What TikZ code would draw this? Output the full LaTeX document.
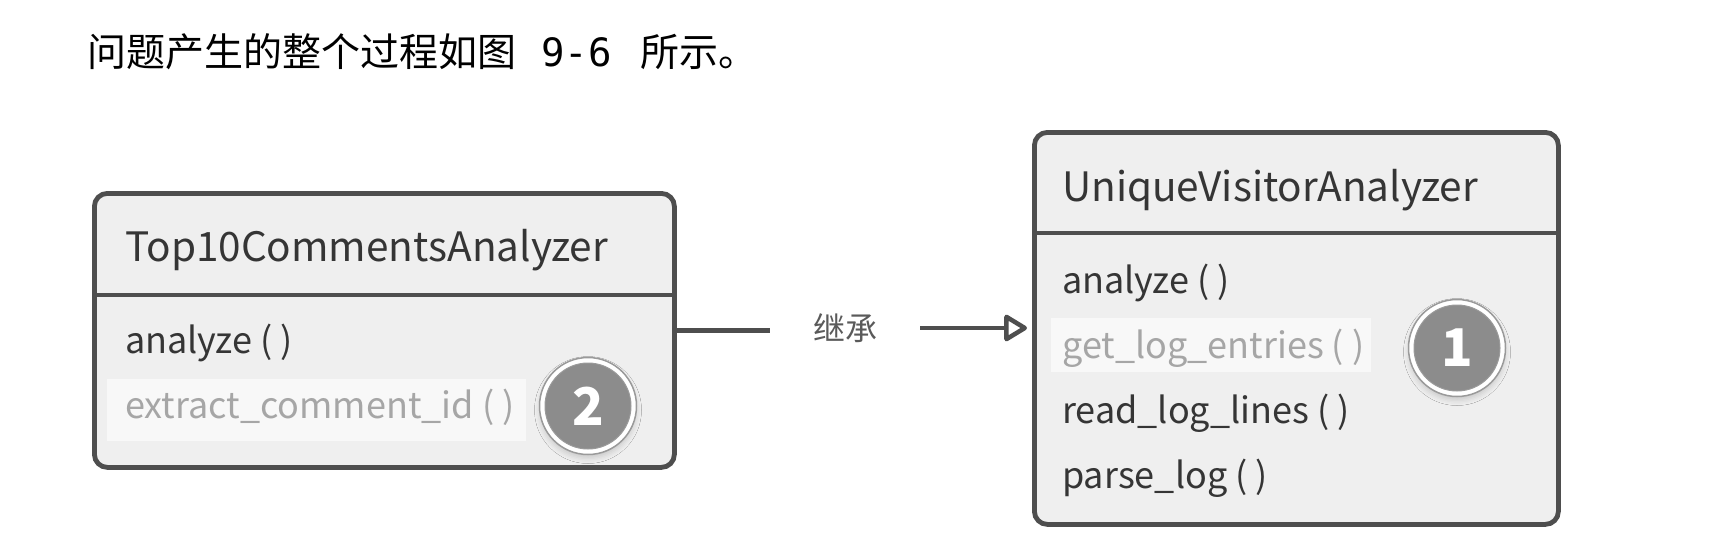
\documentclass[tikz,border=0pt]{standalone}
\usepackage{fontspec}
\setmainfont{Noto Sans CJK SC}
\newfontfamily\titlemono{DejaVu Sans Mono}
\usetikzlibrary{arrows.meta,shadows.blur}
\definecolor{boxfill}{HTML}{EFEFEF}
\definecolor{boxline}{HTML}{4E4E4E}
\definecolor{txt}{HTML}{353535}
\definecolor{dim}{HTML}{A6A6A6}
\definecolor{hl}{HTML}{F8F8F8}
\definecolor{badge}{HTML}{8C8C8C}
\definecolor{badgering}{HTML}{9A9A9A}
\definecolor{lbltxt}{HTML}{5A5A5A}
\begin{document}
\begin{tikzpicture}[x=1pt,y=-1pt,
  box/.style={draw=boxline, line width=4.8pt, fill=boxfill, rounded corners=13pt, inner sep=0pt, anchor=north west},
  sepline/.style={draw=boxline, line width=4.2pt},
  head/.style={anchor=base west, text=txt, font=\fontsize{40.5}{48}\selectfont, inner sep=0pt},
  meth/.style={anchor=base west, text=txt, font=\fontsize{36}{44}\selectfont, inner sep=0pt},
  dimmeth/.style={meth, text=dim},
  hlbox/.style={fill=hl, draw=none, inner sep=0pt, anchor=north west},
  badgeouter/.style={circle, fill=white, draw=badgering, line width=1.5pt, minimum size=97pt, inner sep=0pt,
    blur shadow={shadow xshift=0pt, shadow yshift=-4pt, shadow opacity=15, shadow blur radius=5pt}},
  badgeinner/.style={circle, fill=badge, draw=badgering, line width=1pt, minimum size=86pt, inner sep=0pt,
    text=white, font=\fontsize{52}{60}\selectfont\bfseries},
  conn/.style={draw=boxline, line width=4.8pt},
  lbl/.style={text=lbltxt, font=\fontsize{32}{38}\selectfont, minimum width=150pt, inner sep=0pt},
  title/.style={anchor=base west, text=black, font=\fontsize{39}{46}\selectfont, inner sep=0pt}
]
\useasboundingbox (0,0) rectangle (1735,558);
\fill[white] (0,0) rectangle (1735,558);

\node[title] (ttl) at (87,66) {问题产生的整个过程如图\hspace{25pt}{\titlemono 9-6}\hspace{29pt}所示。};

% left box
\node[box, minimum width=580pt, minimum height=274pt] (L) at (92,191) {};
\coordinate (Ls) at (0,295);
\draw[sepline] (L.west |- Ls) -- (L.east |- Ls);
\node[head] (Lh) at (125,261) {Top10CommentsAnalyzer};
\node[hlbox, minimum width=419pt, minimum height=62pt] (Lhl) at (107,379) {};
\node[meth] (Lm1) at (125,353) {analyze ( )};
\node[dimmeth] (Lm2) at (125,418) {extract\_comment\_id ( )};
\node[badgeouter] (B2o) at (588,406) {};
\node[badgeinner] (B2) at (588,406) {2};

% right box
\node[box, minimum width=524pt, minimum height=392pt] (R) at (1032,130) {};
\coordinate (Rs) at (0,233);
\draw[sepline] (R.west |- Rs) -- (R.east |- Rs);
\node[head] (Rh) at (1062,201) {UniqueVisitorAnalyzer};
\node[hlbox, minimum width=320pt, minimum height=54pt] (Rhl) at (1051,318) {};
\node[meth] (Rm1) at (1062,293) {analyze ( )};
\node[dimmeth] (Rm2) at (1062,358) {get\_log\_entries ( )};
\node[meth] (Rm3) at (1062,423) {read\_log\_lines ( )};
\node[meth] (Rm4) at (1062,488) {parse\_log ( )};
\node[badgeouter] (B1o) at (1457,348) {};
\node[badgeinner] (B1) at (1457,348) {1};

% connector
\node[lbl] (inh) at (845,328) {继承};
\draw[conn] (L.east) -- (L.east -| inh.west);
\draw[conn, -{Triangle[open, length=25pt, width=29pt, line width=4.5pt, round]}, shorten >=5pt] (inh.east) -- (inh.east -| R.west);
\end{tikzpicture}
\end{document}
